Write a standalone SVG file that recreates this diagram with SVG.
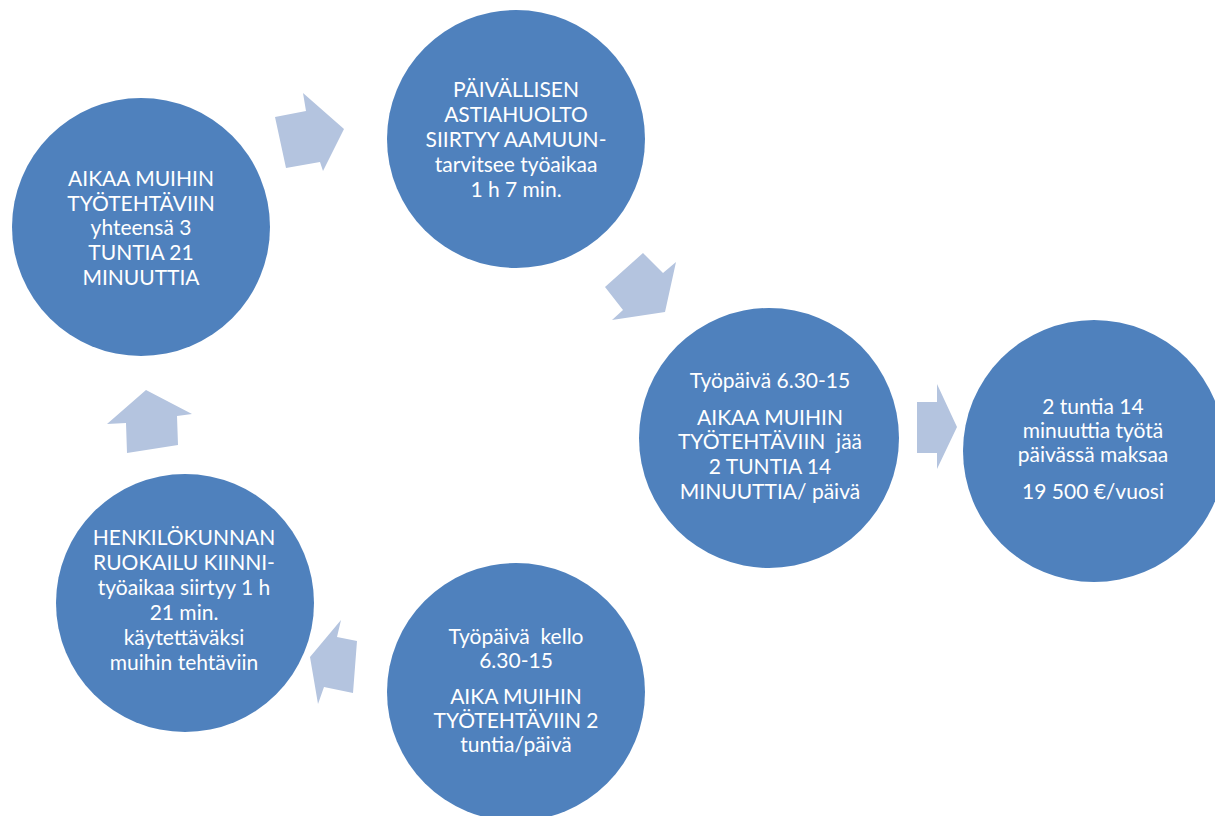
<svg xmlns="http://www.w3.org/2000/svg" width="1215" height="816" viewBox="0 0 1215 816">
<style>
.c{fill:#4F81BD}
.a{fill:#B4C4DF}
text{font-family:Lato,"Liberation Sans",sans-serif;font-size:21px;fill:#FFFFFF;text-anchor:middle;white-space:pre}
</style>
<rect width="1215" height="816" fill="#FFFFFF"/>
<g id="connectors">
<polygon class="a" points="275,117 306,111 303,93 344,129 323,171 320,162 286,168"/>
<polygon class="a" points="643,253 663,273 676,262 665,312 612,320 623,310 605,287"/>
<polygon class="a" points="917,402 937,402 937,384 957,427 937,469 937,453 917,453"/>
<polygon class="a" points="310,657 341,620 337,637 357,641 353,693 324,687 318,704"/>
<polygon class="a" points="146,390 192,414 177,416 178,445 127,453 126,423 107,424"/>
</g>
<g id="node1">
<circle class="c" cx="141" cy="227" r="129"/>
<text x="141" y="186">AIKAA MUIHIN</text>
<text x="141" y="211">TYÖTEHTÄVIIN</text>
<text x="141" y="235">yhteensä 3</text>
<text x="141" y="260">TUNTIA 21</text>
<text x="141" y="285">MINUUTTIA</text>
</g>
<g id="node2">
<circle class="c" cx="516" cy="139" r="129"/>
<text x="516" y="97">PÄIVÄLLISEN</text>
<text x="516" y="122">ASTIAHUOLTO</text>
<text x="516" y="147">SIIRTYY AAMUUN-</text>
<text x="516" y="172">tarvitsee työaikaa</text>
<text x="516" y="197">1 h 7 min.</text>
</g>
<g id="node3">
<circle class="c" cx="769" cy="438" r="130"/>
<text x="770" y="388">Työpäivä 6.30-15</text>
<text x="770" y="425">AIKAA MUIHIN</text>
<text x="770" y="449">TYÖTEHTÄVIIN  jää</text>
<text x="770" y="474">2 TUNTIA 14</text>
<text x="770" y="499">MINUUTTIA/ päivä</text>
</g>
<g id="node4">
<circle class="c" cx="1094" cy="451" r="131"/>
<text x="1093" y="414">2 tuntia 14</text>
<text x="1093" y="438">minuuttia työtä</text>
<text x="1093" y="462">päivässä maksaa</text>
<text x="1093" y="499">19 500 €/vuosi</text>
</g>
<g id="node5">
<circle class="c" cx="516" cy="692" r="129"/>
<text x="516" y="644">Työpäivä  kello</text>
<text x="516" y="668">6.30-15</text>
<text x="516" y="704">AIKA MUIHIN</text>
<text x="516" y="728">TYÖTEHTÄVIIN 2</text>
<text x="516" y="752">tuntia/päivä</text>
</g>
<g id="node6">
<circle class="c" cx="185" cy="603" r="129"/>
<text x="184" y="545">HENKILÖKUNNAN</text>
<text x="184" y="570">RUOKAILU KIINNI-</text>
<text x="184" y="595">työaikaa siirtyy 1 h</text>
<text x="184" y="620">21 min.</text>
<text x="184" y="645">käytettäväksi</text>
<text x="184" y="670">muihin tehtäviin</text>
</g>
</svg>
